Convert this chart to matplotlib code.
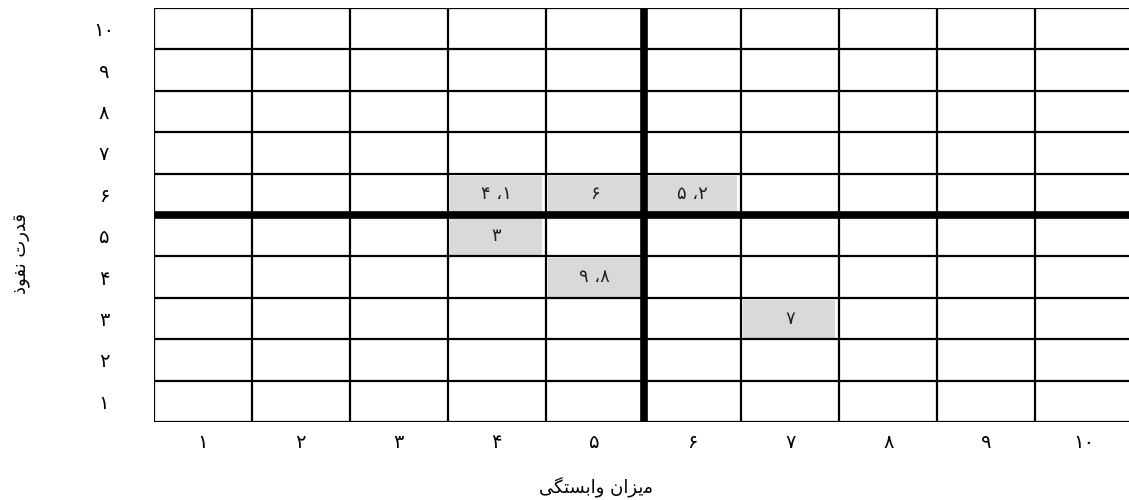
import matplotlib.pyplot as plt
from matplotlib.patches import Rectangle

plt.rcParams['font.family'] = ['DejaVu Sans']

# Persian digits for tick labels
ticks = ['۱', '۲', '۳', '۴', '۵', '۶', '۷', '۸', '۹', '۱۰']

# highlighted cells: column (dependence), row (driving power), label
cell_cols = [4, 5, 6, 4, 5, 7]
cell_rows = [6, 6, 6, 5, 4, 3]
cell_labels = ['۱، ۴', '۶', '۲، ۵', '۳', '۸، ۹', '۷']

# axis titles: 'میزان وابستگی' and 'قدرت نفوذ'
# written as presentation forms in visual order (matplotlib has no Arabic shaping)
xlabel_vis = '\uFBFD\uFB95\uFE98\uFEB4\uFE91\uFE8D\uFEED \uFEE5\uFE8D\uFEB0\uFBFE\uFEE3'
ylabel_vis = '\uFEAB\uFEEE\uFED4\uFEE7 \uFE95\uFEAD\uFEAA\uFED7'

fig = plt.figure(figsize=(11.29, 5), dpi=100)
ax = fig.add_axes([154 / 1129, 78 / 500, 979 / 1129, 414 / 500])
ax.set_xlim(0, 10)
ax.set_ylim(0, 10)

for c, r, lab in zip(cell_cols, cell_rows, cell_labels):
    ax.add_patch(Rectangle((c - 1 + 0.02, r - 1 + 0.03), 0.94, 0.92,
                           facecolor='#d9d9d9', edgecolor='none', zorder=1))
    # right-to-left: first number goes on the right
    txt = ' ،'.join(lab.split('، ')[::-1])
    ax.text(c - 0.5, r - 0.5, txt, ha='center', va='center', fontsize=13,
            color='#222222', zorder=3)

for i in range(11):
    ax.axvline(i, color='black', lw=1.6, zorder=2)
    ax.axhline(i, color='black', lw=1.6, zorder=2)
ax.axvline(5, color='black', lw=5.5, zorder=2)
ax.axhline(5, color='black', lw=5.5, zorder=2)

ax.set_xticks([i + 0.5 for i in range(10)])
ax.set_yticks([i + 0.5 for i in range(10)])
ax.set_xticklabels(ticks, fontsize=14)
ax.set_yticklabels(ticks, fontsize=14, ha='center')
ax.tick_params(axis='x', length=0, pad=8)
ax.tick_params(axis='y', length=0, pad=36)
for s in ax.spines.values():
    s.set_visible(False)

fig.text(596 / 1129, 1 - 487 / 500, xlabel_vis, ha='center', va='center', fontsize=13)
fig.text(22 / 1129, 1 - 253 / 500, ylabel_vis, ha='center', va='center',
         fontsize=13, rotation=90)

fig.savefig('out.png', dpi=100)
